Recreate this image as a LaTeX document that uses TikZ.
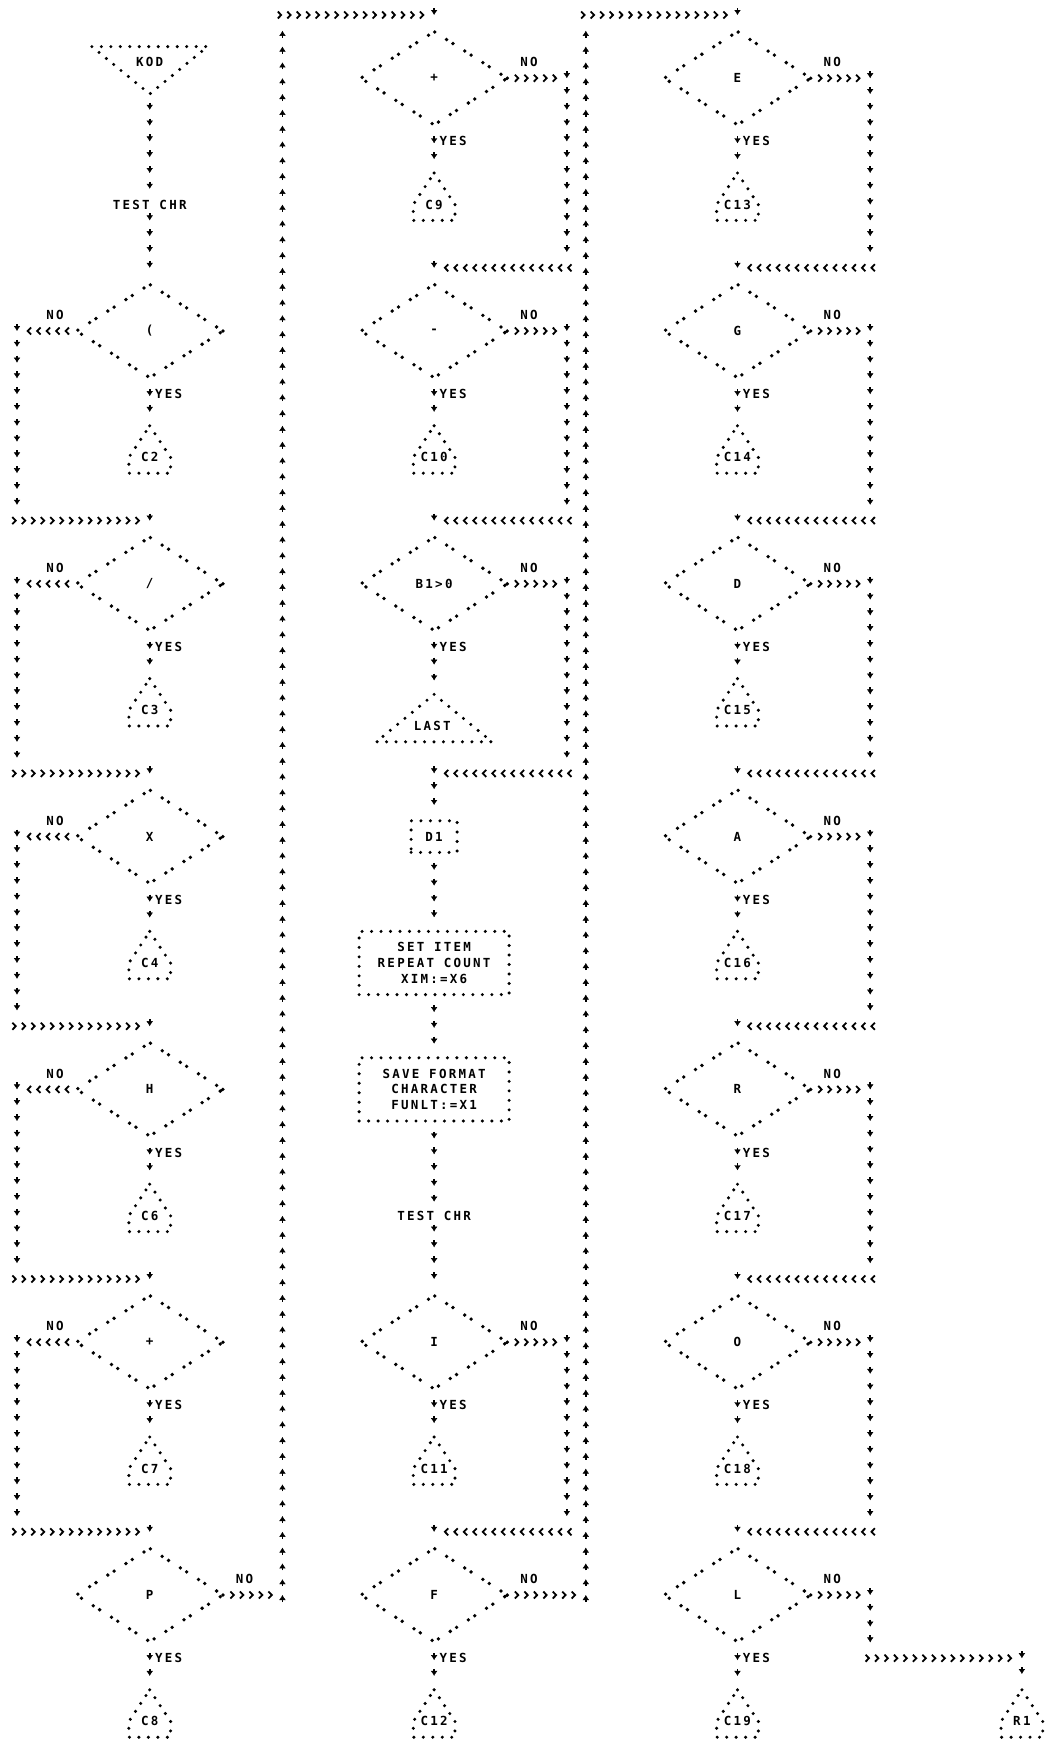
\documentclass[tikz,border=0pt]{standalone}
\usepackage{fontspec}
\newfontfamily\prt{DejaVu Sans Mono}[LetterSpace=18]
\newcommand\prtfont{\prt\bfseries\fontsize{12.5pt}{15.8pt}\selectfont}
\usetikzlibrary{shapes.geometric,decorations.markings,arrows.meta}
\tikzset{
  dotln/.style={draw=black, line width=3.4pt, line cap=round, dash pattern=on 0pt off 9.48pt},
  dia/.style={shape=diamond, draw=black, inner sep=0pt, minimum width=148pt, minimum height=94.8pt, line width=3.8pt, line cap=round, dash pattern=on 0pt off 7.5pt on 0pt off 14pt, font=\prtfont},
  dotbox/.style={shape=rectangle, draw=black, inner sep=0pt, line width=3.4pt, line cap=round, dash pattern=on 0pt off 9.48pt, align=center, font=\prtfont},
  lbl/.style={inner sep=0pt, font=\prtfont},
  hf/.style={postaction={decorate, decoration={markings, mark=between positions #1 and -5pt step 9.48pt with {\arrow{Straight Barb[length=3.4pt,width=7pt,line width=1.8pt]}}}}},
  hf/.default=9.48pt,
  vf/.style={postaction={decorate, decoration={markings, mark=between positions #1 and -8pt step 15.8pt with {\draw[line width=1.6pt] (-7pt,0pt) -- (-2pt,0pt); \arrow{Latex[length=5pt,width=6.5pt]}}}}},
  vf/.default=15.8pt,
}
\newcommand\offp[4]{%
  \node[lbl] (#1) at (#2,#3) {#4};
  \coordinate (top#1) at (#2,#3-2);
  \draw[dotln] (top#1) -- ++(2.2,2) -- ++(0,1) -- ++(-4.4,0) -- ++(0,-1) -- cycle;
}
\newcommand\nochain[6]{%
  \coordinate (#6a) at (#4,#3);
  \coordinate (#6b) at (#4,#3+12);
  \coordinate (#6c) at (#2,#3+12);
  \path[hf] (#1.east) -- (#6a);
  \path[vf=0pt] (#6a) -- (#6b);
  \path[hf=0pt] (#6b) -- (#6c);
  \path[vf=0pt] (#6c) -- (#5);
  \node[lbl] (#6n) at (#2+10,#3-1) {NO};
}
\begin{document}
\begin{tikzpicture}[x=9.48pt, y=-15.8pt]
\useasboundingbox (-1.79325,-0.94937) rectangle (108.4388,110.0633);
\fill[white] (-1.79325,-0.94937) rectangle (108.4388,110.0633);

% ---------------- left column ----------------
\node[lbl] (kod) at (14,3) {KOD};
\draw[dotln] (7.9,2) -- (20.1,2) -- (14,5) -- cycle;
\coordinate (kodapex) at (14,5);
\node[lbl] (tc1) at (14,12) {TEST CHR};
\node[dia] (dA1) at (14,20) {(};
\node[dia] (dA2) at (14,36) {/};
\node[dia] (dA3) at (14,52) {X};
\node[dia] (dA4) at (14,68) {H};
\node[dia] (dA5) at (14,84) {+};
\node[dia] (dA6) at (14,100) {P};

% ---------------- middle column ----------------
\node[dia] (dB1) at (44,4) {+};
\node[dia] (dB2) at (44,20) {-};
\node[dia] (dB3) at (44,36) {B1>0};
\node[lbl] (last) at (43.8,45) {LAST};
\coordinate (toplast) at (44,43);
\draw[dotln] (toplast) -- (50.1,46) -- (37.9,46) -- cycle;
\node[dotbox, minimum width=46pt, minimum height=31.6pt] (d1) at (44,52) {D1};
\node[dotbox, minimum width=150pt, minimum height=63.2pt] (box1) at (44,60) {SET ITEM\\REPEAT COUNT\\XIM:=X6};
\node[dotbox, minimum width=150pt, minimum height=63.2pt] (box2) at (44,68) {SAVE FORMAT\\CHARACTER\\FUNLT:=X1};
\node[lbl] (tc2) at (44,76) {TEST CHR};
\node[dia] (dB4) at (44,84) {I};
\node[dia] (dB5) at (44,100) {F};

% ---------------- right column ----------------
\node[dia] (dC1) at (76,4) {E};
\node[dia] (dC2) at (76,20) {G};
\node[dia] (dC3) at (76,36) {D};
\node[dia] (dC4) at (76,52) {A};
\node[dia] (dC5) at (76,68) {R};
\node[dia] (dC6) at (76,84) {O};
\node[dia] (dC7) at (76,100) {L};
\offp{kR1}{106}{108}{R1}

% ---------------- YES branches and connectors ----------------
\foreach \i/\c/\n in {1/20/C2,2/36/C3,3/52/C4,4/68/C6,5/84/C7,6/100/C8}{
  \offp{kA\i}{14}{\c+8}{\n}
  \path[vf] (dA\i.south) -- (topkA\i);
  \node[lbl] (yA\i) at (16,\c+4) {YES};
}
\foreach \i/\c/\n in {1/4/C9,2/20/C10,4/84/C11,5/100/C12}{
  \offp{kB\i}{44}{\c+8}{\n}
  \path[vf] (dB\i.south) -- (topkB\i);
  \node[lbl] (yB\i) at (46,\c+4) {YES};
}
\path[vf] (dB3.south) -- (toplast);
\node[lbl] (yB3) at (46,40) {YES};
\foreach \i/\c/\n in {1/4/C13,2/20/C14,3/36/C15,4/52/C16,5/68/C17,6/84/C18,7/100/C19}{
  \offp{kC\i}{76}{\c+8}{\n}
  \path[vf] (dC\i.south) -- (topkC\i);
  \node[lbl] (yC\i) at (78,\c+4) {YES};
}

% ---------------- straight flows ----------------
\path[vf] (kodapex) -- (tc1.center);
\path[vf] (tc1.center) -- (dA1.north);
\path[vf] (d1.south) -- (box1.north);
\path[vf] (box1.south) -- (box2.north);
\path[vf] (box2.south) -- (tc2.center);
\path[vf] (tc2.center) -- (dB4.north);

% ---------------- NO branches, left column ----------------
\foreach \i/\c [evaluate=\c as \r using int(\c+12), evaluate=\i as \j using int(\i+1)] in {1/20,2/36,3/52,4/68,5/84}{
  \coordinate (nAa\i) at (0,\c);
  \coordinate (nAb\i) at (0,\r);
  \coordinate (nAc\i) at (14,\r);
  \path[hf] (dA\i.west) -- (nAa\i);
  \path[vf=0pt] (nAa\i) -- (nAb\i);
  \path[hf=0pt] (nAb\i) -- (nAc\i);
  \path[vf=0pt] (nAc\i) -- (dA\j.north);
  \node[lbl] (noA\i) at (4,\c-1) {NO};
}
% P -> up to middle column
\coordinate (up1) at (28,100);
\coordinate (up2) at (28,0);
\coordinate (up3) at (44,0);
\path[hf] (dA6.east) -- (up1);
\path[vf=0pt] (up1) -- (up2);
\path[hf=0pt] (up2) -- (up3);
\path[vf=0pt] (up3) -- (dB1.north);
\node[lbl] (noA6) at (24,99) {NO};

% ---------------- NO branches, middle column ----------------
\nochain{dB1}{44}{4}{58}{dB2.north}{ncB1}
\nochain{dB2}{44}{20}{58}{dB3.north}{ncB2}
\nochain{dB3}{44}{36}{58}{d1.north}{ncB3}
\nochain{dB4}{44}{84}{58}{dB5.north}{ncB4}
\coordinate (up4) at (60,100);
\coordinate (up5) at (60,0);
\coordinate (up6) at (76,0);
\path[hf] (dB5.east) -- (up4);
\path[vf=0pt] (up4) -- (up5);
\path[hf=0pt] (up5) -- (up6);
\path[vf=0pt] (up6) -- (dC1.north);
\node[lbl] (noB5) at (54,99) {NO};

% ---------------- NO branches, right column ----------------
\foreach \i/\c [evaluate=\i as \j using int(\i+1)] in {1/4,2/20,3/36,4/52,5/68,6/84}{
  \nochain{dC\i}{76}{\c}{90}{dC\j.north}{ncC\i}
}
\coordinate (rl1) at (90,100);
\coordinate (rl2) at (90,104);
\coordinate (rl3) at (106,104);
\path[hf] (dC7.east) -- (rl1);
\path[vf=0pt] (rl1) -- (rl2);
\path[hf=0pt] (rl2) -- (rl3);
\path[vf=0pt] (rl3) -- (topkR1);
\node[lbl] (noC7) at (86,99) {NO};
\end{tikzpicture}
\end{document}
